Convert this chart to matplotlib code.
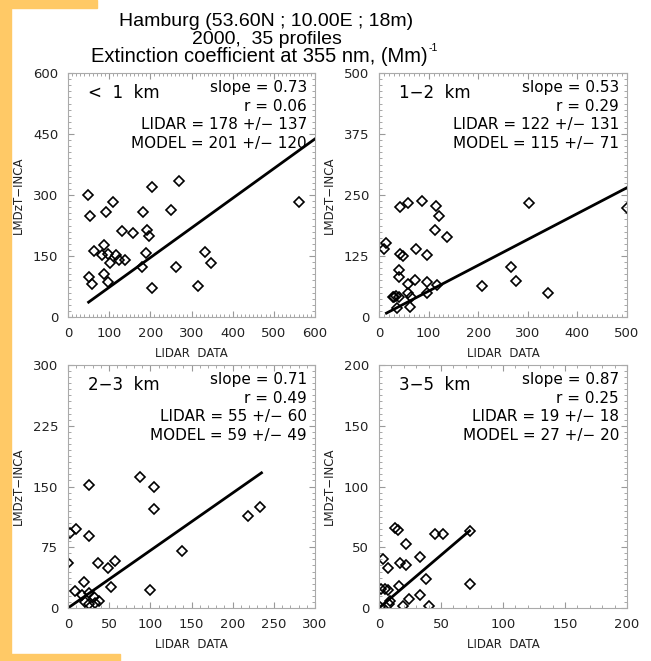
import numpy as np
import matplotlib
matplotlib.use("Agg")
from matplotlib import pyplot as plt
from matplotlib.ticker import MultipleLocator, AutoMinorLocator, FuncFormatter
from matplotlib.patches import Rectangle

plt.rcParams['font.family'] = ['DejaVu Sans']

# panel data (LIDAR vs LMDzT-INCA)
p1_lidar = [49, 53, 92, 110, 205, 270, 250, 181, 132, 159, 191, 197, 88, 63, 82, 98,
            116, 102, 125, 138, 189, 180, 51, 59, 87, 98, 205, 262, 334, 347, 315, 561]
p1_model = [300, 249, 257, 284, 320, 335, 263, 257, 212, 207, 215, 199, 177, 163, 152, 154,
            152, 134, 140, 140, 158, 124, 99, 81, 106, 85, 72, 122, 161, 134, 76, 284]

p2_lidar = [14, 10, 42, 59, 87, 114, 121, 113, 138, 42, 49, 75, 96, 40, 40, 73, 59, 97, 116,
            34, 41, 59, 64, 97, 36, 63, 207, 267, 276, 303, 341, 500, 31, 28]
p2_model = [152, 139, 226, 234, 237, 228, 207, 178, 164, 130, 124, 139, 128, 96, 81, 76, 68,
            71, 66, 44, 42, 49, 42, 49, 18, 21, 64, 102, 74, 234, 49, 223, 42, 40]

p3_lidar = [26, 87, 105, 104, 10, 2, 25, 36, 48, 57, 52, 19, 9, 17, 25, 31, 38, 21, 26, 33,
            139, 100, 219, 233, 0]
p3_model = [152, 162, 149, 122, 98, 93, 89, 56, 50, 58, 26, 32, 21, 16, 19, 14, 9, 8, 5, 6,
            70, 22, 114, 125, 56]

p4_lidar = [13, 15, 22, 45, 52, 3, 7, 17, 22, 33, 38, 16, 2, 5, 7, 73, 33, 24, 19, 40, 9, 8,
            73, 1]
p4_model = [66, 64, 53, 61, 61, 40, 33, 37, 35, 42, 24, 18, 16, 16, 15, 20, 11, 7, 2, 2, 6, 3,
            63, 1]

labels = ['<  1  km', '1\u22122  km', '2\u22123  km', '3\u22125  km']
slopes = [0.73, 0.53, 0.71, 0.87]
rvals = [0.06, 0.29, 0.49, 0.25]
lidar_stats = [(178, 137), (122, 131), (55, 60), (19, 18)]
model_stats = [(201, 120), (115, 71), (59, 49), (27, 20)]
fit_range = [(50, 600), (15, 500), (0, 235), (0, 73)]
axis_max = [600, 500, 300, 200]
xstep = [100, 100, 50, 50]

xs = [p1_lidar, p2_lidar, p3_lidar, p4_lidar]
ys = [p1_model, p2_model, p3_model, p4_model]

W, H = 651, 661
fig = plt.figure(figsize=(W / 100, H / 100), dpi=100)

# orange frame bits
orange = '#FFC966'
fig.patches.append(Rectangle((0, 0), 11 / W, 1, transform=fig.transFigure, color=orange, zorder=0))
fig.patches.append(Rectangle((0, 1 - 8 / H), 97 / W, 8 / H, transform=fig.transFigure, color=orange, zorder=0))
fig.patches.append(Rectangle((0, 0), 120 / W, 7 / H, transform=fig.transFigure, color=orange, zorder=0))

# axes boxes in pixels: left, top, right, bottom
boxes = [(68, 73, 315, 317), (379, 73, 627, 317), (68, 365, 315, 608), (379, 365, 627, 608)]

for i in range(4):
    l, t, r, b = boxes[i]
    ax = fig.add_axes([l / W, 1 - b / H, (r - l) / W, (b - t) / H])
    ax.plot(xs[i], ys[i], 'D', ms=5.5, mfc='none', mec='black', mew=1.2, clip_on=True)
    x0, x1 = fit_range[i]
    fx = np.array([x0, x1])
    ax.plot(fx, slopes[i] * fx, color='black', lw=2.0)

    m = axis_max[i]
    ax.set_xlim(0, m)
    ax.set_ylim(0, m)
    ax.xaxis.set_major_locator(MultipleLocator(xstep[i]))
    ax.yaxis.set_major_locator(MultipleLocator(m / 4))
    ax.xaxis.set_minor_locator(AutoMinorLocator(10 if xstep[i] == 100 else 5))
    ax.yaxis.set_minor_locator(AutoMinorLocator(10))
    ax.tick_params(which='both', direction='in', top=True, right=True, color='#999999',
                   labelsize=9.5, labelcolor='#222222')
    ax.tick_params(which='major', length=4, width=0.8, pad=7)
    ax.tick_params(which='minor', length=2, width=0.6)
    for s in ax.spines.values():
        s.set_color('#aaaaaa')
        s.set_linewidth(0.8)
    ax.yaxis.set_major_formatter(FuncFormatter(lambda v, p: '%d' % v))

    ax.set_xlabel('LIDAR  DATA', fontsize=8.5, color='#222222', labelpad=5)
    ax.set_ylabel('LMDzT\u2212INCA', fontsize=8.5, color='#222222', labelpad=6)

    ax.text(0.08, 0.918, labels[i], transform=ax.transAxes, fontsize=12, va='center', ha='left')
    lines = ['slope = %.2f' % slopes[i],
             'r = %.2f' % rvals[i],
             'LIDAR = %d +/\u2212 %d' % lidar_stats[i],
             'MODEL = %d +/\u2212 %d' % model_stats[i]]
    for k, txt in enumerate(lines):
        ax.text(0.968, 0.939 - k * 0.076, txt, transform=ax.transAxes, fontsize=11,
                va='center', ha='right')

tfont = ['Liberation Sans']
fig.text(0.408, 1 - 22 / H, 'Hamburg (53.60N ; 10.00E ; 18m)', ha='center', va='center',
         fontsize=14, family=tfont)
fig.text(0.410, 1 - 39 / H, '2000,  35 profiles', ha='center', va='center', fontsize=14,
         family=tfont)
fig.text(0.398, 1 - 56 / H, 'Extinction coefficient at 355 nm, (Mm)', ha='center',
         va='center', fontsize=14.5, family=tfont)
fig.text(429 / W, 1 - 48 / H, '-1', ha='left', va='center', fontsize=7.5, family=tfont)

fig.savefig('out.png', dpi=100)
